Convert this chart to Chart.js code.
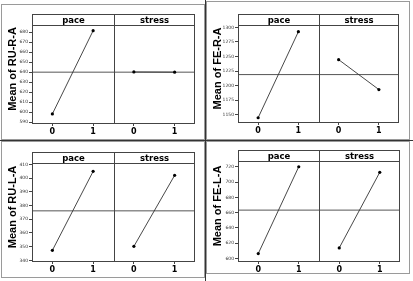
<!DOCTYPE html>
<html>
<head>
<meta charset="utf-8">
<script src="https://cdn.jsdelivr.net/npm/chart.js@4.4.1/dist/chart.umd.min.js"></script>
<style>
  html, body { margin: 0; padding: 0; background: #fff; }
  #wrap { position: relative; width: 413px; height: 281px; overflow: hidden; }
  #wrap canvas { position: absolute; }
  .sep { position: absolute; background: #333; }
</style>
</head>
<body>
<div id="wrap">
  <canvas id="c0"></canvas>
  <canvas id="c1"></canvas>
  <canvas id="c2"></canvas>
  <canvas id="c3"></canvas>
  <div class="sep" style="left:205px;top:0;width:1px;height:281px"></div>
  <div class="sep" style="left:0;top:140px;width:413px;height:1px"></div>
</div>
<script>
// main effects plot data
const responses = ['Mean of RU-R-A', 'Mean of FE-R-A', 'Mean of RU-L-A', 'Mean of FE-L-A'];
const factors = ['pace', 'stress'];
const levels = ['0', '1'];

const paceMeans = [
    [598.1, 681.6],
    [1145, 1292.5],
    [347.3, 404.9],
    [606.5, 720]
];
const stressMeans = [
    [640.2, 640],
    [1244.6, 1193.3],
    [350.2, 402],
    [613.9, 712.7]
];
const grandMeans = [640, 1219, 376.1, 663.3];

// y axis range and tick step per panel
const yMin = [588, 1136, 338.8, 595.5];
const yMax = [687.3, 1304, 411, 727.5];
const yStep = [10, 25, 10, 20];

// where each panel sits on the page (box) and its plot area inside it
const layouts = [
    { x: 1,   y: 4,   w: 204, h: 136, l: 31, t: 21, r: 194, b: 120, hd: 11 },
    { x: 206, y: 1,   w: 204, h: 139, l: 32, t: 24, r: 193, b: 122, hd: 11 },
    { x: 1,   y: 141, w: 204, h: 137, l: 31, t: 22, r: 194, b: 121, hd: 11 },
    { x: 206, y: 141, w: 204, h: 133, l: 32, t: 20, r: 194, b: 121, hd: 11 }
];

Chart.defaults.animation = false;

const facetPlugin = {
    id: 'facets',
    afterDraw(chart, args, opts) {
        const { ctx, chartArea: a, scales: { x } } = chart;
        const L = Math.round(a.left) + 0.5;
        const R = Math.round(a.right) - 0.5;
        const T = Math.round(a.top) + 0.5;
        const B = Math.round(a.bottom) - 0.5;
        const H = T - opts.header;
        const mid = Math.round(x.getPixelForValue(1.5)) + 0.5;

        ctx.save();
        // panel frame
        ctx.strokeStyle = '#9a9a9a';
        ctx.lineWidth = 1;
        ctx.strokeRect(0.5, 0.5, chart.width - 1, chart.height - 1);

        // plot + header boxes
        ctx.strokeStyle = '#444';
        ctx.strokeRect(L, H, R - L, B - H);
        ctx.beginPath();
        ctx.moveTo(L, T); ctx.lineTo(R, T);
        ctx.moveTo(mid, H); ctx.lineTo(mid, B);
        ctx.stroke();

        // facet labels
        ctx.fillStyle = '#000';
        ctx.font = 'bold 8.5px "DejaVu Sans"';
        ctx.textAlign = 'center';
        ctx.textBaseline = 'middle';
        ctx.fillText(factors[0], (L + mid) / 2, (H + T) / 2 + 0.5);
        ctx.fillText(factors[1], (mid + R) / 2, (H + T) / 2 + 0.5);

        // y title, centred on header + plot
        ctx.font = 'bold 11px "Liberation Sans"';
        ctx.translate(opts.titleX, (H + B) / 2);
        ctx.rotate(-Math.PI / 2);
        ctx.fillText(opts.title, 0, 0);
        ctx.restore();
    }
};

function criarPainel(i) {
    const lay = layouts[i];
    const canvas = document.getElementById('c' + i);
    canvas.width = lay.w;
    canvas.height = lay.h;
    canvas.style.left = lay.x + 'px';
    canvas.style.top = lay.y + 'px';
    canvas.style.width = lay.w + 'px';
    canvas.style.height = lay.h + 'px';

    const pontos = (vals, offset) => vals.map((v, k) => ({ x: k + offset, y: v }));

    return new Chart(canvas.getContext('2d'), {
        type: 'line',
        data: {
            datasets: [
                {
                    data: [{ x: -0.5, y: grandMeans[i] }, { x: 3.5, y: grandMeans[i] }],
                    borderColor: '#555',
                    borderWidth: 1,
                    pointRadius: 0,
                    order: 2
                },
                {
                    data: pontos(paceMeans[i], 0),
                    borderColor: '#333',
                    borderWidth: 0.9,
                    pointRadius: 1.6,
                    pointBorderWidth: 0,
                    pointBackgroundColor: '#000',
                    order: 1
                },
                {
                    data: pontos(stressMeans[i], 2),
                    borderColor: '#333',
                    borderWidth: 0.9,
                    pointRadius: 1.6,
                    pointBorderWidth: 0,
                    pointBackgroundColor: '#000',
                    order: 1
                }
            ]
        },
        options: {
            responsive: false,
            events: [],
            layout: { padding: { left: 0, top: lay.t, right: lay.w - lay.r, bottom: 0 } },
            plugins: {
                legend: { display: false },
                tooltip: { enabled: false },
                facets: { title: responses[i], header: lay.hd, titleX: 12 }
            },
            scales: {
                x: {
                    type: 'linear',
                    min: -0.5,
                    max: 3.5,
                    afterBuildTicks: axis => { axis.ticks = [0, 1, 2, 3].map(v => ({ value: v })); },
                    afterFit: axis => { axis.height = lay.h - lay.b; },
                    grid: { drawOnChartArea: false, drawTicks: true, tickLength: 2, color: '#444' },
                    border: { display: false },
                    ticks: {
                        padding: 1,
                        color: '#000',
                        font: { family: 'DejaVu Sans', size: 8, weight: 'bold' },
                        callback: v => levels[v % 2]
                    }
                },
                y: {
                    min: yMin[i],
                    max: yMax[i],
                    afterFit: axis => { axis.width = lay.l; },
                    grid: { drawOnChartArea: false, drawTicks: true, tickLength: 3, color: '#444' },
                    border: { display: false },
                    ticks: {
                        stepSize: yStep[i],
                        includeBounds: false,
                        padding: 1,
                        color: '#333',
                        font: { family: 'DejaVu Sans', size: 4.5 },
                        callback: v => String(v)
                    }
                }
            }
        },
        plugins: [facetPlugin]
    });
}

const paineis = [0, 1, 2, 3].map(criarPainel);
</script>
</body>
</html>
